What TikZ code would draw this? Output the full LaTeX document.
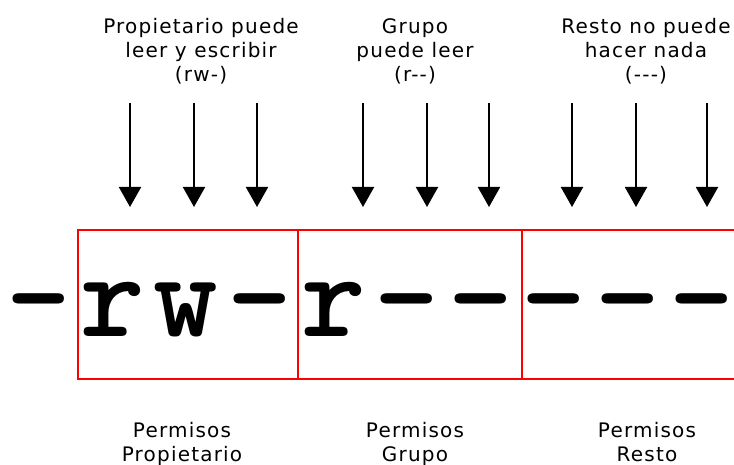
\documentclass[tikz,border=0pt]{standalone}
\usepackage{fontspec}
\usepackage{tikz}
\usetikzlibrary{arrows.meta}
\setmainfont{DejaVu Sans}
\newfontfamily\labelfont{DejaVu Sans}[LetterSpace=6]

\begin{document}
\begin{tikzpicture}[x=1pt,y=-1pt,
  permbox/.style={draw=red,line width=1.2pt,minimum width=#1,minimum height=149pt,inner sep=0pt},
  permchar/.style={font=\ttfamily\bfseries\fontsize{123}{123}\selectfont,anchor=base,inner sep=0pt},
  permlabel/.style={font=\labelfont\fontsize{20}{24}\selectfont,align=center,anchor=north,inner sep=0pt},
  bitarrow/.style={line width=2pt,-{Triangle[width=22pt,length=20pt]}}]
\useasboundingbox (0,0) rectangle (734,465);
% the three groups of bits
\node[permbox=220pt] (owner) at (188,304.5) {};
\node[permbox=224pt] (group) at (410,304.5) {};
\node[permbox=224pt] (other) at (634,304.5) {};
\foreach \c [count=\i] in {-,r,w,-,r,-,-,-,-,-}
  \node[permchar] (char\i) at (39+73.6*\i-73.6,336) {\c};
% what each group may do
\node[permlabel] (ownertext) at (201,18) {Propietario puede\\leer y escribir\\(rw-)};
\node[permlabel] (grouptext) at (415,18) {Grupo\\puede leer\\(r--)};
\node[permlabel] (othertext) at (646,18) {Resto no puede\\hacer nada\\(---)};
\node[permlabel] (ownername) at (182,422) {Permisos\\Propietario};
\node[permlabel] (groupname) at (415,422) {Permisos\\Grupo};
\node[permlabel] (othername) at (647,422) {Permisos\\Resto};
% one arrow per bit
\foreach \x [count=\i] in {130,194,257,363,427,489,572,636,707} {
  \coordinate (bit\i top) at (\x,103);
  \coordinate (bit\i tip) at (\x,207);
  \draw[bitarrow] (bit\i top) -- (bit\i tip);
}
\end{tikzpicture}
\end{document}
